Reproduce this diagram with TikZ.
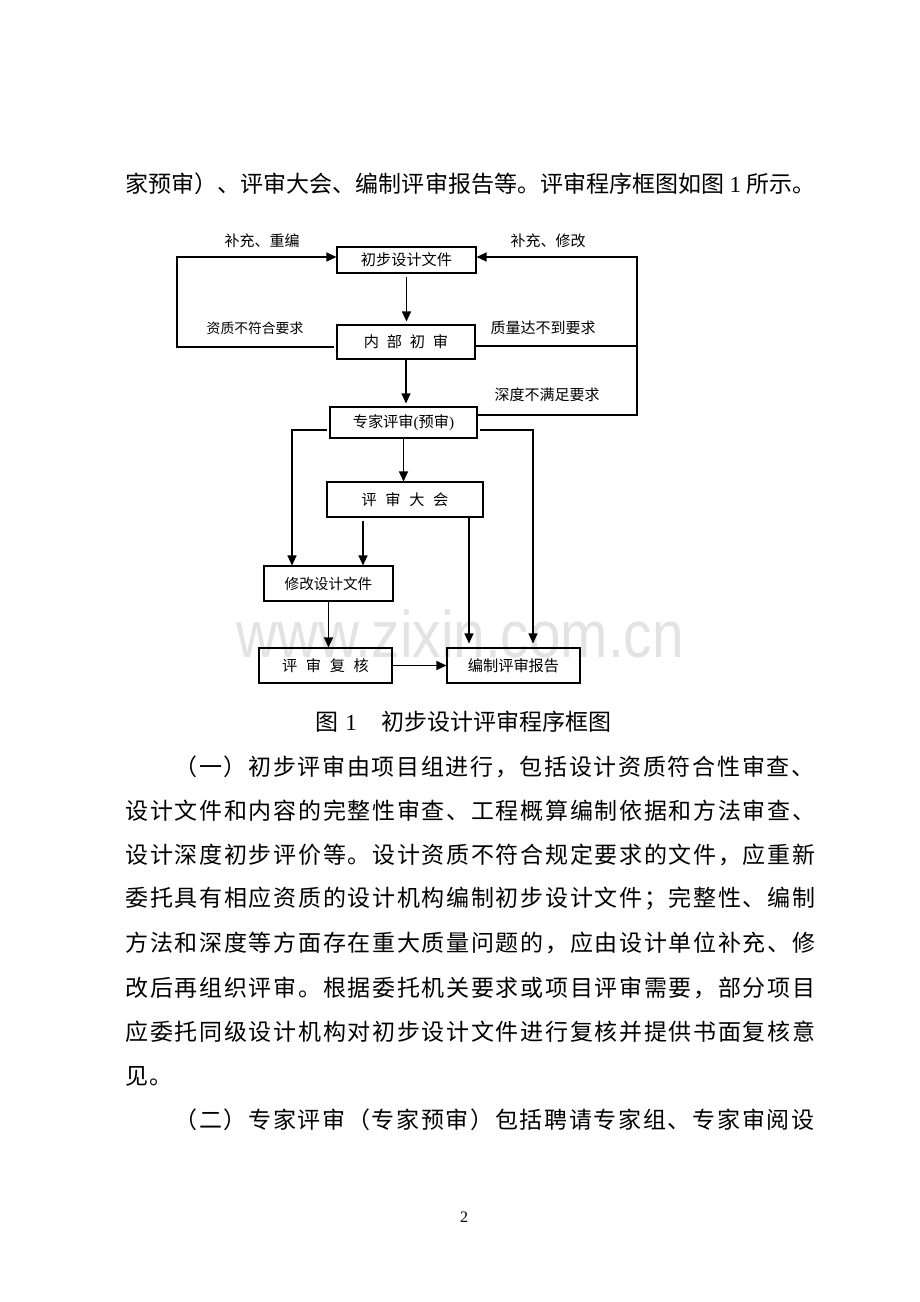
\documentclass[tikz,border=0pt]{standalone}
\usepackage{fontspec}
\setmainfont{Liberation Serif}
\newfontfamily\cjk{Noto Sans CJK SC}
\newfontfamily\wmfont{Liberation Sans}
\usetikzlibrary{arrows.meta,positioning}

% spread the characters of one line over a fixed width
\def\spreadtext#1{\spreadfirst#1\relax}
\def\spreadfirst#1{#1\spreadrest}
\def\spreadrest#1{\ifx#1\relax\else\hfil#1\expandafter\spreadrest\fi}
\def\one{\hspace{2.5pt}{\rmfamily 1}\hspace{2.5pt}}

\begin{document}
\begin{tikzpicture}[
    x=0.5pt, y=-0.5pt,
    box/.style={draw, line width=0.55pt, inner sep=0pt, font=\cjk\fontsize{7.6}{7.6}\selectfont},
    flowlabel/.style={inner sep=0pt, font=\cjk\fontsize{7.5}{7.5}\selectfont},
    bodytext/.style={anchor=west, inner sep=0pt, font=\cjk\fontsize{11.5}{11.5}\selectfont},
    arrow/.style={-{Triangle[length=5pt,width=4.5pt]}, line width=0.6pt},
    link/.style={line width=0.6pt}
]

% Page
\useasboundingbox[fill=white] (0,0) rectangle (920,1302);

% Watermark
\node[font=\wmfont\fontsize{33}{33}\selectfont, text=black!11, xscale=0.86, anchor=base, inner sep=0pt] (mark) at (460,657) {www.zixin.com.cn};

% Text above the chart
\node[bodytext] (line0) at (125,184) {\hbox to 345pt{\spreadtext{家预审）、评审大会、编制评审报告等。评审程序框图如图\one 所示。}}};

% Boxes
\node[box, minimum width=69.5pt, minimum height=13pt] (doc) at (406.5,260) {初步设计文件};
\node[box, minimum width=69pt, minimum height=17pt] (internal) at (406,342) {内\hspace{3.9pt}部\hspace{3.9pt}初\hspace{3.9pt}审};
\node[box, minimum width=73.5pt, minimum height=15.5pt] (expert) at (403.5,422.5) {专家评审{\rmfamily(}预审{\rmfamily)}};
\node[box, minimum width=78pt, minimum height=17.5pt] (meeting) at (405,499.5) {评\hspace{4.3pt}审\hspace{4.3pt}大\hspace{4.3pt}会};
\node[box, minimum width=64.5pt, minimum height=17.5pt, font=\cjk\fontsize{7.3}{7.3}\selectfont] (revise) at (328.5,583.5) {修改设计文件\hspace{8.5pt}};
\node[box, minimum width=66.5pt, minimum height=17.5pt] (recheck) at (325.5,665.5) {评\hspace{4.3pt}审\hspace{4.3pt}复\hspace{4.3pt}核};
\node[box, minimum width=66.5pt, minimum height=17.5pt] (report) at (513.5,665.5) {编制评审报告};

% Feedback labels
\node[flowlabel] (lab1) at (262,241) {补充、重编};
\node[flowlabel] (lab2) at (548,241) {补充、修改};
\node[flowlabel, font=\cjk\fontsize{6.9}{6.9}\selectfont] (lab3) at (255,328) {资质不符合要求};
\node[flowlabel] (lab4) at (543,328) {质量达不到要求};
\node[flowlabel] (lab5) at (547,395) {深度不满足要求};

% Main flow
\draw[arrow, shorten <=1.5pt, shorten >=1.5pt] (doc.south) -- (doc.south |- internal.north);
\draw[arrow, shorten >=1.5pt] (internal.south) -- (internal.south |- expert.north);
\draw[arrow] (expert.south) -- (expert.south |- meeting.north);
\draw[arrow, shorten <=1.5pt] ([xshift=-21pt]meeting.south) -- ([xshift=-21pt]meeting.south |- revise.north);
\draw[arrow, shorten >=2pt] ([xshift=32pt]meeting.south) -- ([xshift=32pt]meeting.south |- report.north);
\draw[arrow, shorten <=1pt] ([yshift=-3.75pt]expert.west) -| ([xshift=-18.25pt]revise.north);
\draw[arrow, shorten <=1pt, shorten >=2pt] ([yshift=-3.75pt]expert.east) -| ([xshift=9.75pt]report.north);
\draw[arrow] (revise.south) -- (revise.south |- recheck.north);
\draw[arrow] (recheck.east) -- (report.west);

% Feedback loops
\coordinate (leftrail) at (177,300);
\coordinate (rightrail) at (637,300);
\draw[arrow, shorten <=1pt] ([yshift=-2.5pt]internal.west) -| (leftrail) |- ([yshift=1.5pt]doc.west);
\draw[arrow] ([yshift=3.75pt]expert.east) -| (rightrail) |- ([yshift=1.5pt]doc.east);
\draw[link] ([yshift=-2pt]internal.east) -- ([yshift=-2pt]internal.east -| rightrail);

% Caption
\node[anchor=west, inner sep=0pt, font=\cjk\fontsize{11.5}{11.5}\selectfont] (caption) at (315,722) {图\hspace{3.5pt}{\rmfamily 1}\hspace{12.5pt}初步设计评审程序框图};

% Body text
\node[bodytext] (line1) at (174,767) {\hbox to 320pt{\spreadtext{（一）初步评审由项目组进行，包括设计资质符合性审查、}}};
\node[bodytext] (line2) at (125,811) {\hbox to 345pt{\spreadtext{设计文件和内容的完整性审查、工程概算编制依据和方法审查、}}};
\node[bodytext] (line3) at (125,855) {\hbox to 345pt{\spreadtext{设计深度初步评价等。设计资质不符合规定要求的文件，应重新}}};
\node[bodytext] (line4) at (125,899) {\hbox to 345pt{\spreadtext{委托具有相应资质的设计机构编制初步设计文件；完整性、编制}}};
\node[bodytext] (line5) at (125,943) {\hbox to 345pt{\spreadtext{方法和深度等方面存在重大质量问题的，应由设计单位补充、修}}};
\node[bodytext] (line6) at (125,988) {\hbox to 345pt{\spreadtext{改后再组织评审。根据委托机关要求或项目评审需要，部分项目}}};
\node[bodytext] (line7) at (125,1032) {\hbox to 345pt{\spreadtext{应委托同级设计机构对初步设计文件进行复核并提供书面复核意}}};
\node[bodytext] (line8) at (125,1076) {见\hspace{0.8pt}。};
\node[bodytext] (line9) at (174,1120) {\hbox to 320pt{\spreadtext{（二）专家评审（专家预审）包括聘请专家组、专家审阅设}}};

% Page number
\node[inner sep=0pt, font=\rmfamily\fontsize{8}{8}\selectfont] (pageno) at (464,1217) {2};

\end{tikzpicture}
\end{document}
